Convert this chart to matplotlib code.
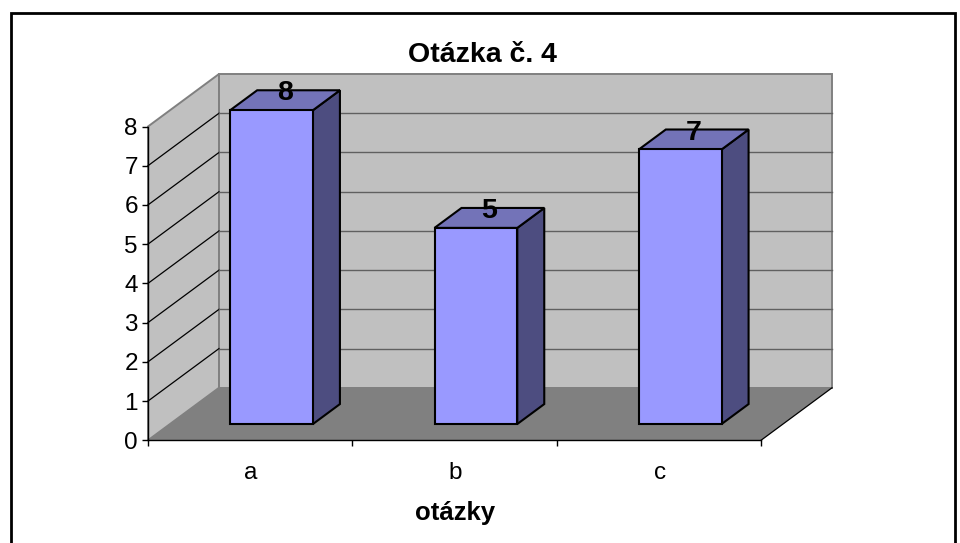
import matplotlib
matplotlib.use("Agg")
import matplotlib.pyplot as plt
from matplotlib.patches import Rectangle

plt.rcParams['font.family'] = ['Liberation Sans', 'DejaVu Sans']

categories = ['a', 'b', 'c']
values = [8, 5, 7]
y_ticks = [0, 1, 2, 3, 4, 5, 6, 7, 8]
title = 'Otázka č. 4'
x_label = 'otázky'

W, H = 960, 543
# front plane of the 3D box in pixels
LEFT, RIGHT, BOTTOM, TOP = 148, 761, 440.3, 126.5
# depth of the box in pixels
DEPTH_X, DEPTH_Y = 71, 52.5

fig = plt.figure(figsize=(W / 100, H / 100), dpi=100, facecolor='white')
ax = fig.add_axes([LEFT / W, 1 - BOTTOM / H, (RIGHT - LEFT) / W, (BOTTOM - TOP) / H])
ax.set_xlim(0, len(categories))
ax.set_ylim(0, y_ticks[-1])
ax.patch.set_alpha(0)

# depth in data units
dx = DEPTH_X / ((RIGHT - LEFT) / len(categories))
dy = DEPTH_Y / ((BOTTOM - TOP) / y_ticks[-1])
n = len(categories)
top = y_ticks[-1]


def proj(x, y, d):
    return x + d * dx, y + d * dy


def face(points, color, edge, lw, z):
    xs, ys = zip(*points)
    ax.fill(xs, ys, facecolor=color, edgecolor=edge, linewidth=lw, zorder=z,
            clip_on=False, joinstyle='miter')


# walls and floor
face([proj(0, 0, 0), proj(0, 0, 1), proj(0, top, 1), proj(0, top, 0)], '#C0C0C0', '#808080', 1.4, 1)
face([proj(0, 0, 1), proj(n, 0, 1), proj(n, top, 1), proj(0, top, 1)], '#C0C0C0', '#808080', 1.4, 1)
face([proj(0, 0, 0), proj(n, 0, 0), proj(n, 0, 1), proj(0, 0, 1)], '#808080', 'none', 0, 2)
ax.plot(*zip(proj(n, 0, 0), proj(n, 0, 1)), color='black', lw=0.9, zorder=3, clip_on=False)

# grid lines on walls
for v in y_ticks[1:-1]:
    ax.plot(*zip(proj(0, v, 0), proj(0, v, 1)), color='black', lw=0.9, zorder=3, clip_on=False)
    ax.plot(*zip(proj(0, v, 1), proj(n, v, 1)), color='#606060', lw=1.0, zorder=3, clip_on=False)

# bars
bar_w = 0.405
d0, d1 = 0.31, 0.69
for i, v in enumerate(values):
    x0 = i + 0.497 - bar_w / 2
    x1 = x0 + bar_w
    face([proj(x1, 0, d0), proj(x1, 0, d1), proj(x1, v, d1), proj(x1, v, d0)], '#4D4D80', 'black', 1.5, 4)
    face([proj(x0, v, d0), proj(x1, v, d0), proj(x1, v, d1), proj(x0, v, d1)], '#7373B8', 'black', 1.5, 4)
    bx, by = proj(x0, 0, d0)
    ax.bar(bx, v, width=bar_w, bottom=by, align='edge', color='#9999FF', edgecolor='black',
           linewidth=1.5, zorder=5, clip_on=False)
    tx, ty = proj(i + 0.5, v, (d0 + d1) / 2)
    ax.annotate(str(v), (tx, ty), xytext=(-0.5, 5), textcoords='offset points', ha='center', va='center',
                fontsize=20.5, fontweight='bold', color='black', zorder=6, annotation_clip=False)

# axes
for s in ['top', 'right']:
    ax.spines[s].set_visible(False)
for s in ['left', 'bottom']:
    ax.spines[s].set_linewidth(1.0)
    ax.spines[s].set_zorder(7)
ax.set_yticks(y_ticks)
ax.set_xticks(range(n + 1))
ax.set_xticklabels([])
ax.set_xticks([i + 0.504 for i in range(n)], minor=True)
ax.set_xticklabels(categories, minor=True)
ax.tick_params(axis='x', which='major', length=4.5, width=1.0, direction='out')
ax.tick_params(axis='x', which='minor', length=0, pad=15.5, labelsize=17.5)
ax.tick_params(axis='y', length=4.3, width=1.0, direction='out', pad=3, labelsize=17.5)

fig.text(482 / W, 1 - 54.5 / H, title, ha='center', va='center', fontsize=20.5, fontweight='bold')
fig.text(455 / W, 1 - 513 / H, x_label, ha='center', va='center', fontsize=18.5, fontweight='bold')

# chart frame, lower edge is cut off by the picture
fig.add_artist(Rectangle((10.8 / W, -0.05), 944.2 / W, 1.05 - 12.8 / H, transform=fig.transFigure,
                         facecolor='none', edgecolor='black', linewidth=2.0))

fig.savefig('out.png', dpi=100)
